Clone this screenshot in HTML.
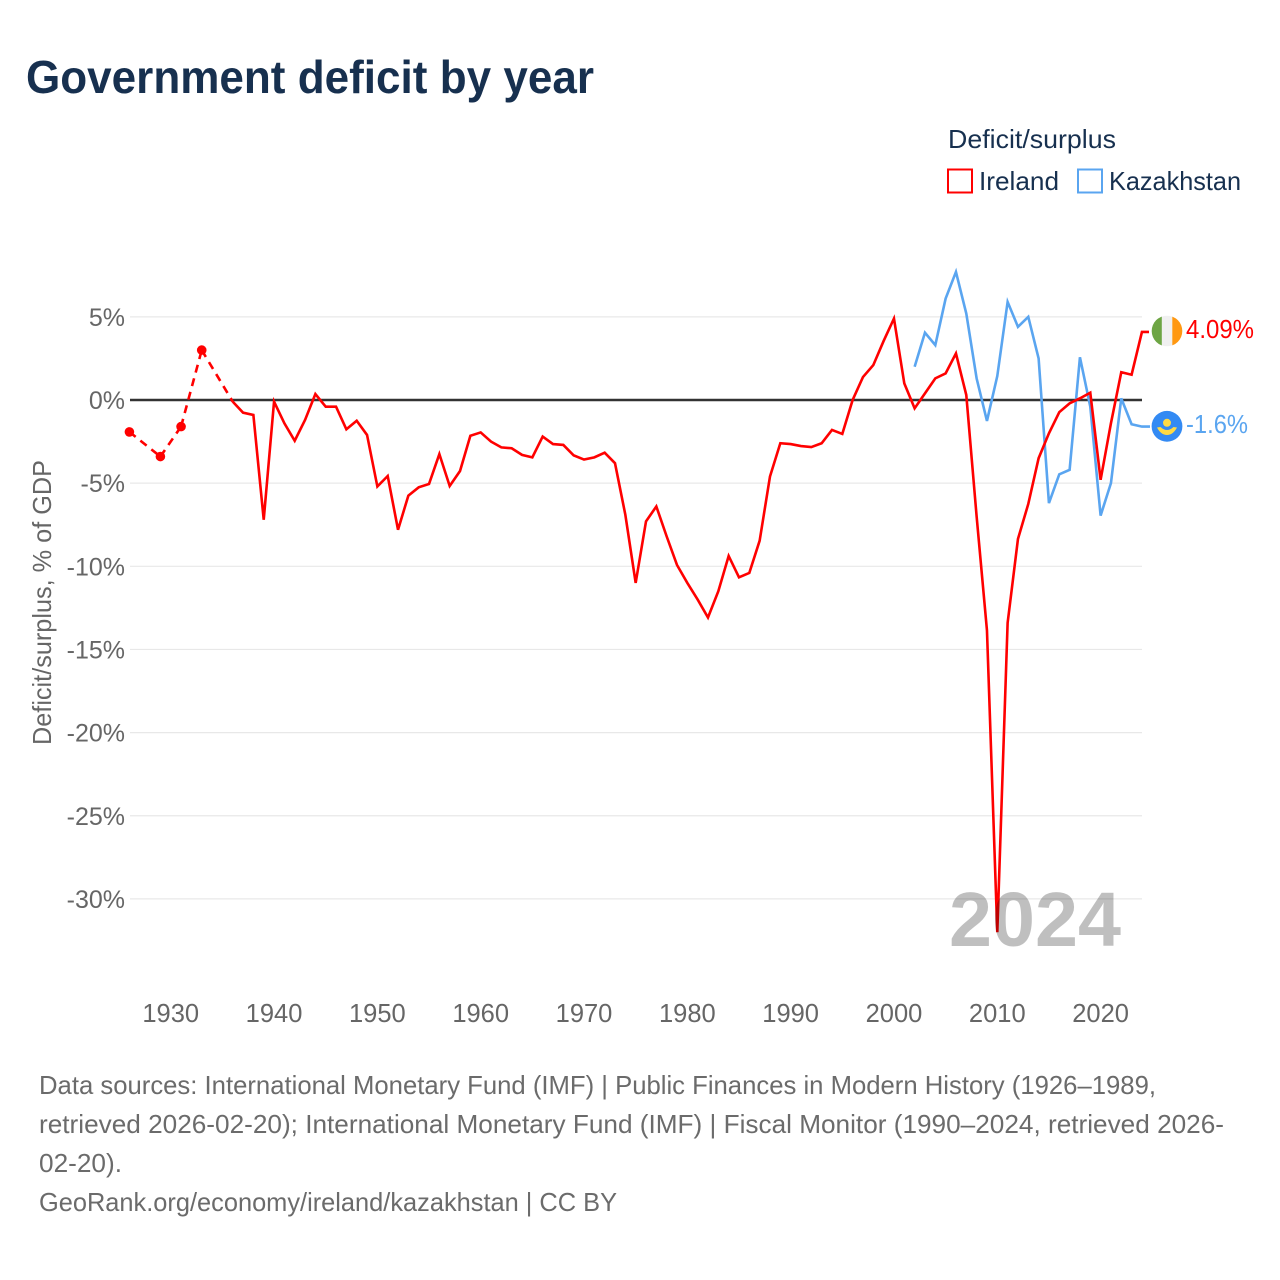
<!DOCTYPE html>
<html lang="en">
<head>
<meta charset="utf-8">
<title>Government deficit by year</title>
<style>
html,body{margin:0;padding:0;background:#fff;width:1280px;height:1280px;overflow:hidden}
svg{display:block}
text{font-family:"Liberation Sans",sans-serif}
</style>
</head>
<body>
<svg id="chart" xmlns="http://www.w3.org/2000/svg" width="1280" height="1280" viewBox="0 0 1280 1280">
  <rect x="0" y="0" width="1280" height="1280" fill="#fff"/>
  <text x="26" y="93" font-size="46" font-weight="700" fill="#17304f" textLength="568" lengthAdjust="spacingAndGlyphs">Government deficit by year</text>

  <g>
    <text x="948" y="148" font-size="26" fill="#17304f" textLength="168" lengthAdjust="spacingAndGlyphs">Deficit/surplus</text>
    <g>
      <rect x="948" y="169.5" width="24" height="23" fill="none" stroke="#ff0000" stroke-width="2"/>
      <text x="979" y="190" font-size="26" fill="#17304f" textLength="80" lengthAdjust="spacingAndGlyphs">Ireland</text>
    </g>
    <g>
      <rect x="1078" y="169.5" width="24" height="23" fill="none" stroke="#5aa5f0" stroke-width="2"/>
      <text x="1109" y="190" font-size="26" fill="#17304f" textLength="132" lengthAdjust="spacingAndGlyphs">Kazakhstan</text>
    </g>
  </g>

  <text transform="translate(51,745) rotate(-90)" x="0" y="0" font-size="26" fill="#666" textLength="285" lengthAdjust="spacingAndGlyphs">Deficit/surplus, % of GDP</text>

  <g id="grid"></g>
  <g id="yticks"></g>
  <g id="xticks"></g>
  <g id="series"></g>

  <g>
    <clipPath id="ie-clip"><circle cx="1167" cy="331" r="15.3"/></clipPath>
    <g clip-path="url(#ie-clip)">
      <rect x="1151" y="315" width="11" height="32" fill="#6da544"/>
      <rect x="1161.8" y="315" width="10.6" height="32" fill="#f0f0f0"/>
      <rect x="1172.3" y="315" width="11" height="32" fill="#ff9811"/>
    </g>
  </g>
  <text x="1186" y="338" font-size="26" fill="#ff0000" textLength="68" lengthAdjust="spacingAndGlyphs">4.09%</text>

  <g>
    <circle cx="1167" cy="426.3" r="15.4" fill="#338af3"/>
    <circle cx="1167" cy="422.8" r="4" fill="#ffda44"/>
    <path d="M1157 427.5 L1160.5 427 Q1167 433 1173.5 427 L1177 427.5 Q1173 435 1167 435 Q1161 435 1157 427.5 Z" fill="#ffda44"/>
  </g>
  <text x="1186" y="433" font-size="26" fill="#5aa5f0" textLength="62" lengthAdjust="spacingAndGlyphs">-1.6%</text>

  <text x="949" y="946" font-size="77" font-weight="700" fill="#000" fill-opacity="0.25" textLength="172" lengthAdjust="spacingAndGlyphs">2024</text>

  <g font-size="26" fill="#6b6b6b">
    <text x="39" y="1094" textLength="1117" lengthAdjust="spacingAndGlyphs">Data sources: International Monetary Fund (IMF) | Public Finances in Modern History (1926–1989,</text>
    <text x="39" y="1133" textLength="1185" lengthAdjust="spacingAndGlyphs">retrieved 2026-02-20); International Monetary Fund (IMF) | Fiscal Monitor (1990–2024, retrieved 2026-</text>
    <text x="39" y="1172" textLength="83" lengthAdjust="spacingAndGlyphs">02-20).</text>
    <text x="39" y="1211" textLength="578" lengthAdjust="spacingAndGlyphs">GeoRank.org/economy/ireland/kazakhstan | CC BY</text>
  </g>
</svg>
<script>
const irelandYears = [1926,1927,1928,1929,1930,1931,1932,1933,1934,1935,1936,1937,1938,1939,1940,1941,1942,1943,1944,1945,1946,1947,1948,1949,1950,1951,1952,1953,1954,1955,1956,1957,1958,1959,1960,1961,1962,1963,1964,1965,1966,1967,1968,1969,1970,1971,1972,1973,1974,1975,1976,1977,1978,1979,1980,1981,1982,1983,1984,1985,1986,1987,1988,1989,1990,1991,1992,1993,1994,1995,1996,1997,1998,1999,2000,2001,2002,2003,2004,2005,2006,2007,2008,2009,2010,2011,2012,2013,2014,2015,2016,2017,2018,2019,2020,2021,2022,2023,2024];
const irelandValues = [-1.92,null,null,-3.4,null,-1.6,null,3.0,null,null,-0.1,-0.76,-0.9,-7.2,-0.1,-1.4,-2.45,-1.2,0.36,-0.4,-0.4,-1.76,-1.25,-2.1,-5.2,-4.57,-7.8,-5.75,-5.25,-5.05,-3.25,-5.17,-4.27,-2.15,-1.95,-2.5,-2.85,-2.9,-3.3,-3.45,-2.2,-2.65,-2.7,-3.33,-3.58,-3.45,-3.17,-3.8,-6.9,-11.0,-7.3,-6.4,-8.2,-9.92,-11.0,-12.0,-13.08,-11.5,-9.38,-10.66,-10.4,-8.46,-4.6,-2.6,-2.65,-2.77,-2.83,-2.6,-1.8,-2.04,0.0,1.38,2.1,3.55,4.9,1.0,-0.5,0.4,1.3,1.6,2.8,0.3,-7.0,-13.85,-32.0,-13.4,-8.36,-6.25,-3.5,-2.0,-0.73,-0.2,0.1,0.44,-4.8,-1.4,1.67,1.52,4.09];
const kazakhstanYears = [2002,2003,2004,2005,2006,2007,2008,2009,2010,2011,2012,2013,2014,2015,2016,2017,2018,2019,2020,2021,2022,2023,2024];
const kazakhstanValues = [2.0,4.05,3.3,6.1,7.7,5.2,1.3,-1.26,1.44,5.9,4.4,5.0,2.5,-6.2,-4.47,-4.2,2.57,-0.4,-6.95,-5.0,0.1,-1.46,-1.6];
const yTickValues = [5,0,-5,-10,-15,-20,-25,-30];
const yTickLabels = ["5%","0%","-5%","-10%","-15%","-20%","-25%","-30%"];
const xTickYears = [1930,1940,1950,1960,1970,1980,1990,2000,2010,2020];

const NS = "http://www.w3.org/2000/svg";
function xScale(year){ return 129.4 + (year - 1926) * 10.332; }
function yScale(value){ return 400 - value * 16.63; }
function make(tag, parent, attrs){
  const el = document.createElementNS(NS, tag);
  for (const k in attrs) el.setAttribute(k, attrs[k]);
  parent.appendChild(el);
  return el;
}

const grid = document.getElementById("grid");
const yticks = document.getElementById("yticks");
const xticks = document.getElementById("xticks");
const series = document.getElementById("series");

yTickValues.forEach(function(v, i){
  if (v !== 0) {
    const line = make("line", grid, {x1:130, x2:1142, y1:yScale(v), y2:yScale(v), stroke:"#e8e8e8", "stroke-width":1.2});
    
    
  }
  const label = make("text", yticks, {x:125, y:yScale(v)+9, "text-anchor":"end", "font-size":25, fill:"#666"});
  
  
  label.textContent = yTickLabels[i];
});

xTickYears.forEach(function(year){
  const label = make("text", xticks, {x:xScale(year), y:1022, "text-anchor":"middle", "font-size":25.5, fill:"#666"});
  
  
  label.textContent = year;
});

function drawSeries(years, values, color, name, stubEnd){
  const pts = [];
  years.forEach(function(y, i){
    if (values[i] !== null) pts.push({x:xScale(y), y:yScale(values[i]), i:i});
  });
  const g = make("g", series, {});
  
  
  let run = [];
  function flush(){
    if (run.length > 1) {
      const line = make("polyline", g, {points:run.map(function(p){return p.x.toFixed(2)+","+p.y.toFixed(2);}).join(" "), fill:"none", stroke:color, "stroke-width":2.6, "stroke-linejoin":"miter"});
      
      
    } else if (run.length === 1) {
      const dot = make("circle", g, {cx:run[0].x, cy:run[0].y, r:4.8, fill:color});
      
      
    }
    run = [];
  }
  pts.forEach(function(p, k){
    if (k > 0 && p.i !== pts[k-1].i + 1) {
      flush();
      const gap = make("line", g, {x1:pts[k-1].x, y1:pts[k-1].y, x2:p.x, y2:p.y, stroke:color, "stroke-width":2.6, "stroke-dasharray":"8 6"});
      
      
    }
    run.push(p);
  });
  const last = pts[pts.length-1];
  run.push({x:stubEnd, y:last.y, i:last.i+1});
  flush();
}

const zeroLine = make("line", grid, {x1:130, x2:1142, y1:yScale(0), y2:yScale(0), stroke:"#333", "stroke-width":2.4});



drawSeries(kazakhstanYears, kazakhstanValues, "#5aa5f0", "kazakhstan", 1150);
drawSeries(irelandYears, irelandValues, "#ff0000", "ireland", 1149);
</script>
</body>
</html>
